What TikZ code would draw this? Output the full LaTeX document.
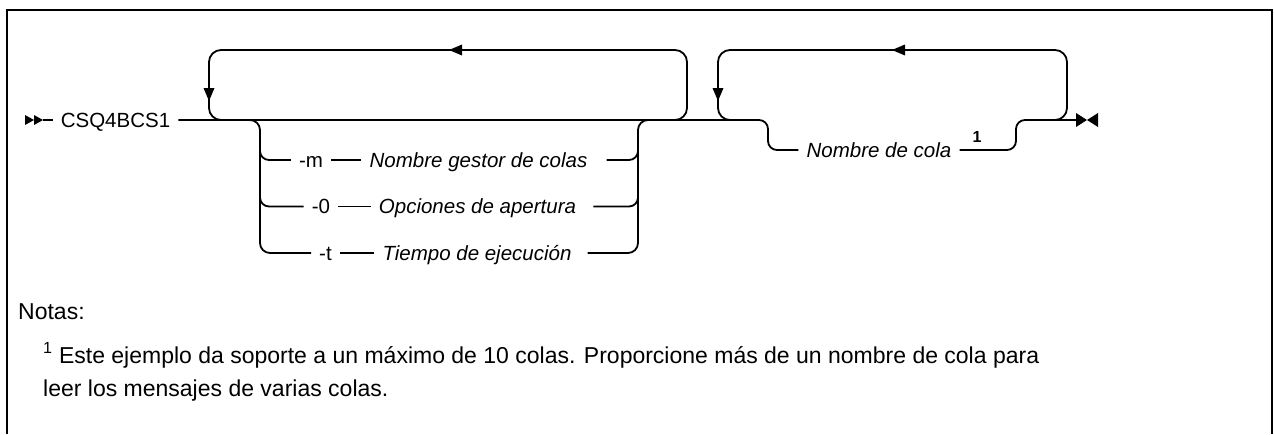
\documentclass[tikz,border=0pt]{standalone}
\usepackage{fontspec}
\setmainfont{Liberation Sans}
\newcommand\dfont{\fontsize{20.5}{24}\selectfont}
\newcommand\nfont{\fontsize{23}{27}\selectfont}
\begin{document}
\begin{tikzpicture}[x=1pt,y=-1pt,
  ln/.style={line width=1.8pt},
  lbl/.style={font=\dfont, inner xsep=8pt, inner ysep=0pt, text height=14pt, text depth=0pt},
  ilbl/.style={lbl, font=\dfont\itshape},
  note/.style={font=\nfont, inner sep=0pt, anchor=base west}]
\useasboundingbox (0,0) rectangle (1274,434);
% frame
\draw[line width=2.5pt] (7,434) -- (7,10) -- (1272,10) -- (1272,434);
% nodes
\node[lbl] (cmd) at (115.5,120) {CSQ4BCS1};
\node[lbl] (m) at (311,160) {-m};
\node[ilbl] (mn) at (478.5,160) {Nombre gestor de colas};
\node[lbl] (o) at (321,206.5) {-0};
\node[ilbl] (on) at (477.5,206.5) {Opciones de apertura};
\node[lbl] (t) at (325.5,253) {-t};
\node[ilbl] (tn) at (477,253) {Tiempo de ejecución};
\node[ilbl] (nc) at (879,150) {Nombre de cola};
\node[font=\fontsize{16}{16}\selectfont\bfseries, inner sep=0pt, anchor=base] (fn) at (977,142) {1};
% start marker
\coordinate (s) at (43,120);
\fill (25,115) -- (25,125) -- (34,120) -- cycle;
\fill (34,115) -- (34,125) -- (43,120) -- cycle;
\draw[ln] (s) -- (cmd.west);
% main line and required branch
\draw[ln, rounded corners=9pt] (cmd.east) -| (768,150) -- (nc.west);
\coordinate (e) at (1076,120);
\draw[ln, rounded corners=9pt] (nc.east) -| (1016,120) -- (e);
% optional group
\draw[ln, rounded corners=10pt] (240,120) -| (260,253) -- (t.west);
\draw[ln, rounded corners=9pt] (260,140) |- (m.west);
\draw[ln, rounded corners=9pt] (260,185) |- (o.west);
\draw[ln] (m.east) -- (mn.west);
\draw[ln] (o.east) -- (on.west);
\draw[ln] (t.east) -- (tn.west);
\draw[ln, rounded corners=9pt] ([xshift=11pt]mn.east) -| (638,140);
\draw[ln, rounded corners=9pt] ([xshift=9pt]on.east) -| (638,185);
\draw[ln, rounded corners=10pt] ([xshift=8pt]tn.east) -| (638,120) -- (660,120);
% repeat loops
\draw[ln, rounded corners=12pt] (660,120) -| (687,50) -| (209,120) -- (235,120);
\draw[ln, rounded corners=12pt] (745,120) -| (718,50) -| (1067,120) -- (1040,120);
% arrowheads
\fill (209,101) -- (203.5,88) -- (214.5,88) -- cycle;
\fill (449,50) -- (462,44.5) -- (462,55.5) -- cycle;
\fill (718,101) -- (712.5,88) -- (723.5,88) -- cycle;
\fill (892,50) -- (905,44.5) -- (905,55.5) -- cycle;
% end marker
\fill (1076,113) -- (1076,127) -- (1087,120) -- cycle;
\fill (1098,113) -- (1098,127) -- (1087,120) -- cycle;
% notes
\node[note] (notas) at (18,319) {Notas:};
\node[note] (n1) at (43,363) {\textsuperscript{1} Este ejemplo da soporte a un máximo de 10 colas. Proporcione más de un nombre de cola para};
\node[note] (n2) at (43,396) {leer los mensajes de varias colas.};
\end{tikzpicture}
\end{document}
